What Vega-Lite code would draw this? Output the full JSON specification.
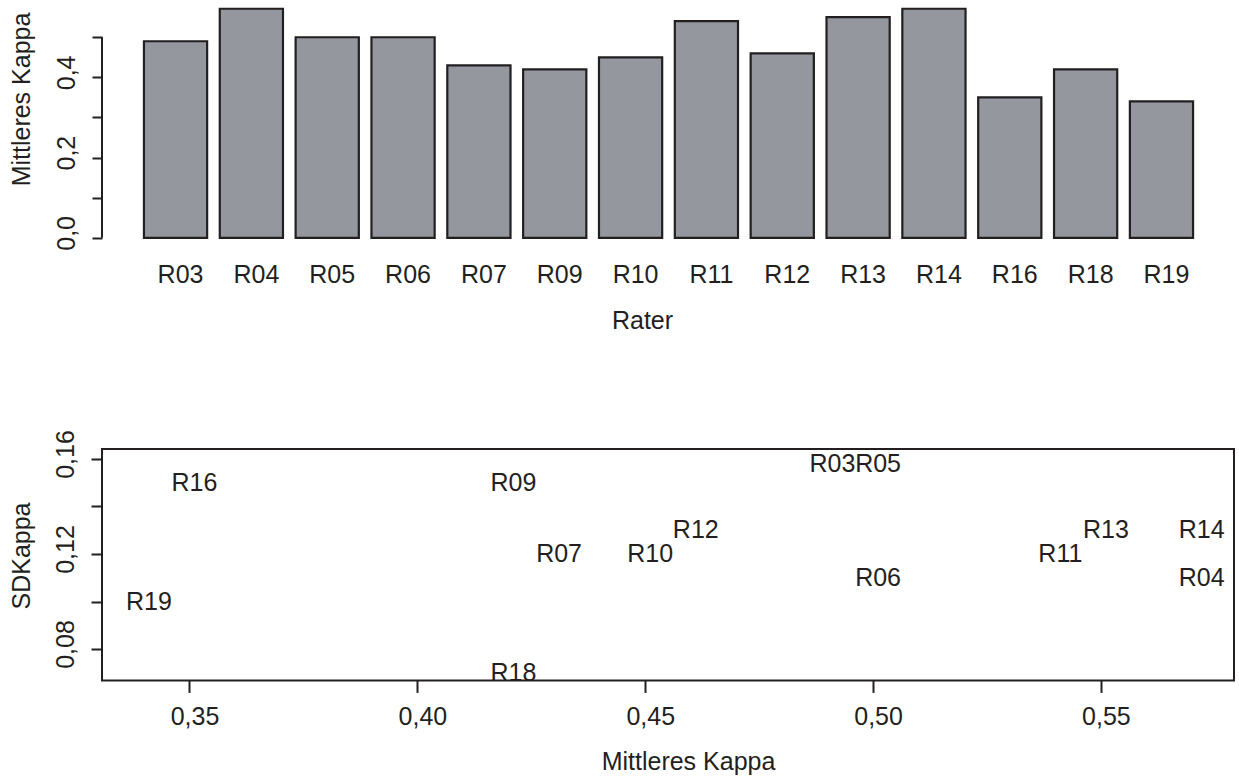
{
  "$schema": "https://vega.github.io/schema/vega-lite/v6.json",
  "padding": {"left": 8, "top": 0, "right": 0, "bottom": 0},
  "background": "white",
  "config": {
    "font": "Liberation Sans",
    "view": {"stroke": null},
    "axis": {
      "labelFont": "Liberation Sans",
      "titleFont": "Liberation Sans",
      "labelFontSize": 25,
      "titleFontSize": 25,
      "labelColor": "#231f20",
      "titleColor": "#231f20",
      "titleFontWeight": "normal",
      "tickColor": "#231f20",
      "domainColor": "#231f20",
      "tickWidth": 2,
      "domainWidth": 2,
      "grid": false,
      "labelOverlap": false,
      "labelFlush": false
    }
  },
  "datasets": {
    "kappa": [
      {"rater": "R03", "mk": 0.490, "sd": 0.158},
      {"rater": "R04", "mk": 0.571, "sd": 0.110},
      {"rater": "R05", "mk": 0.500, "sd": 0.158},
      {"rater": "R06", "mk": 0.500, "sd": 0.110},
      {"rater": "R07", "mk": 0.430, "sd": 0.120},
      {"rater": "R09", "mk": 0.420, "sd": 0.150},
      {"rater": "R10", "mk": 0.450, "sd": 0.120},
      {"rater": "R11", "mk": 0.540, "sd": 0.120},
      {"rater": "R12", "mk": 0.460, "sd": 0.130},
      {"rater": "R13", "mk": 0.550, "sd": 0.130},
      {"rater": "R14", "mk": 0.571, "sd": 0.130},
      {"rater": "R16", "mk": 0.350, "sd": 0.150},
      {"rater": "R18", "mk": 0.420, "sd": 0.070},
      {"rater": "R19", "mk": 0.340, "sd": 0.100}
    ]
  },
  "spacing": 202,
  "bounds": "flush",
  "vconcat": [
    {
      "width": 1133,
      "height": 247,
      "layer": [
        {
          "data": {"name": "kappa"},
          "mark": {"type": "bar", "fill": "#94979e", "stroke": "#231f20", "strokeWidth": 2.2},
          "encoding": {
            "x": {
              "field": "rater",
              "type": "nominal",
              "sort": null,
              "scale": {"paddingInner": 0.1667, "paddingOuter": 0.553},
              "axis": {
                "title": "Rater",
                "labelAngle": 0,
                "ticks": false,
                "tickSize": 0,
                "domain": false,
                "labelBaseline": "alphabetic",
                "labelPadding": 35.3,
                "labelOffset": 5,
                "titleX": 540,
                "titleY": 81,
                "titleBaseline": "alphabetic",
                "titleAlign": "center",
                "titleAnchor": null
              }
            },
            "y": {
              "field": "mk",
              "type": "quantitative",
              "title": "Mittleres Kappa",
              "scale": {"domain": [-0.0228, 0.5928], "nice": false, "zero": false},
              "axis": {
                "values": [0, 0.1, 0.2, 0.3, 0.4, 0.5],
                "labelExpr": "round(datum.value*10) % 2 == 1 ? '' : replace(format(datum.value, '.1f'), '.', ',')",
                "domain": false,
                "tickSize": 10,
                "labelAngle": -90,
                "labelAlign": "center",
                "labelBaseline": "alphabetic",
                "labelPadding": 17.5,
                "labelOffset": -5,
                "titleX": -72.3,
                "titleY": 99,
                "titleAngle": -90,
                "titleAlign": "center",
                "titleBaseline": "alphabetic",
                "titleAnchor": null
              }
            },
            "y2": {"datum": 0}
          }
        },
        {
          "data": {"values": [{}]},
          "mark": {"type": "rule", "stroke": "#231f20", "strokeWidth": 2},
          "encoding": {
            "x": {"datum": 0, "type": "quantitative", "scale": {"domain": [0, 1]}, "axis": null},
            "y": {"datum": 0, "type": "quantitative", "title": "Mittleres Kappa"},
            "y2": {"datum": 0.5}
          }
        }
      ],
      "resolve": {"scale": {"x": "independent"}}
    },
    {
      "width": 1132,
      "height": 231.4,
      "view": {"stroke": "#231f20", "strokeWidth": 2},
      "data": {"name": "kappa"},
      "mark": {"type": "text", "fontSize": 25, "font": "Liberation Sans", "color": "#231f20", "dx": 5, "align": "center", "baseline": "middle"},
      "encoding": {
        "x": {
          "field": "mk",
          "type": "quantitative",
          "scale": {"domain": [0.3308, 0.5792], "nice": false, "zero": false},
          "axis": {
            "title": "Mittleres Kappa",
            "values": [0.35, 0.4, 0.45, 0.5, 0.55],
            "labelExpr": "replace(format(datum.value, '.2f'), '.', ',')",
            "domain": false,
            "tickSize": 12,
            "labelBaseline": "alphabetic",
            "labelPadding": 32.3,
            "labelOffset": 5,
            "titleX": 586,
            "titleY": 89.3,
            "titleBaseline": "alphabetic",
            "titleAlign": "center",
            "titleAnchor": null
          }
        },
        "y": {
          "field": "sd",
          "type": "quantitative",
          "scale": {"domain": [0.0668, 0.1642], "nice": false, "zero": false},
          "axis": {
            "title": "SDKappa",
            "values": [0.08, 0.10, 0.12, 0.14, 0.16],
            "labelExpr": "round(datum.value*100) % 4 == 0 ? replace(format(datum.value, '.2f'), '.', ',') : ''",
            "domain": false,
            "tickSize": 11,
            "labelAngle": -90,
            "labelAlign": "center",
            "labelBaseline": "alphabetic",
            "labelPadding": 18,
            "labelOffset": -5,
            "titleX": -72.7,
            "titleY": 106.5,
            "titleAngle": -90,
            "titleAlign": "center",
            "titleBaseline": "alphabetic",
            "titleAnchor": null
          }
        },
        "text": {"field": "rater"}
      }
    }
  ]
}
